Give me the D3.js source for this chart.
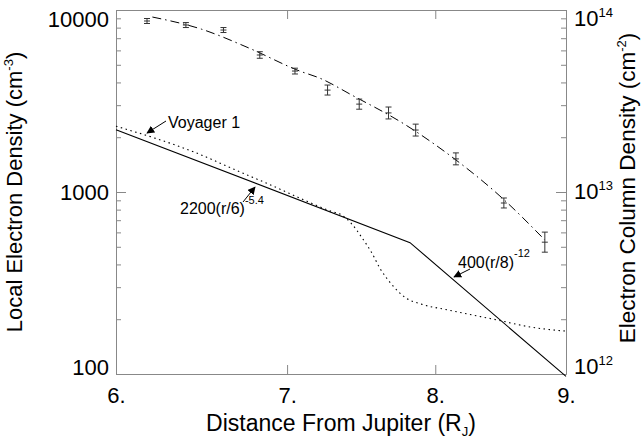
<!DOCTYPE html>
<html>
<head>
<meta charset="utf-8">
<script src="https://cdn.jsdelivr.net/npm/d3@7"></script>
<style>
  body { margin: 0; background: #fff; }
  svg { font-family: "Liberation Sans", Arial, Helvetica, sans-serif; }
</style>
</head>
<body>
<svg id="chart" width="643" height="441"></svg>
<script>
// tick values and labels
const xTicks = [6, 7, 8, 9];
const xTickLabels = ["6.", "7.", "8.", "9."];
const yLeftTicks = [100, 1000, 10000];
const yLeftMinor = [200, 300, 400, 500, 600, 700, 800, 900, 2000, 3000, 4000, 5000, 6000, 7000, 8000, 9000];
const yRightTicks = [1e12, 1e13, 1e14];
const yRightExp = ["12", "13", "14"];

// power law model (solid), local density cm^-3
const modelR = [6.0, 7.82, 9.0];
const modelN = [2200, 527, 97];

// Voyager 1 profile (dotted), local density cm^-3
const voyR = [6.0, 6.45, 6.7, 6.9, 7.1, 7.28, 7.35, 7.42, 7.49, 7.56, 7.61, 7.69, 7.79, 7.90, 8.09, 8.46, 8.72, 9.0];
const voyN = [2300, 1640, 1300, 1090, 910, 785, 750, 667, 559, 456, 382, 312, 262, 242, 225, 198, 181, 172];

// column density measurements with error bars, cm^-2
const obsR  = [6.17, 6.39, 6.61, 6.83, 7.05, 7.26, 7.47, 7.67, 7.86, 8.15, 8.51, 8.83];
const obsN  = [8.7e13, 8.27e13, 7.76e13, 5.66e13, 4.62e13, 3.63e13, 3.04e13, 2.72e13, 2.19e13, 1.52e13, 8.7e12, 5.3e12];
const obsLo = [8.43e13, 8.01e13, 7.52e13, 5.43e13, 4.45e13, 3.41e13, 2.85e13, 2.52e13, 2.03e13, 1.41e13, 8.17e12, 4.67e12];
const obsHi = [8.98e13, 8.53e13, 8.01e13, 5.90e13, 4.79e13, 3.87e13, 3.24e13, 2.93e13, 2.36e13, 1.64e13, 9.27e12, 6.02e12];

// column density fit (dash-dot), cm^-2
const fitR = [6.2, 6.48, 6.76, 7.08, 7.21, 7.42, 7.78, 8.12, 8.48, 8.83];
const fitN = [9.15e13, 7.85e13, 6.2e13, 4.62e13, 4.22e13, 3.41e13, 2.36e13, 1.56e13, 9.5e12, 5.45e12];

const svg = d3.select("#chart");
const mLeft = 116, mRight = 566, mTop = 10, mBottom = 374;
const axisColor = "#888";

let x = d3.scaleLog().domain([6, 9]).range([mLeft, mRight]);
let yL = d3.scaleLog().domain([100, 10000]).range([mBottom, mTop]);
let yR = d3.scaleLog().domain([1e12, 1e14]).range([mBottom, mTop]);

// labels at the ends of the y axes stay inside the frame
function labelDy(i, n) {
    if (i === 0) return "0em";
    if (i === n - 1) return "0.74em";
    return "0.34em";
}

function styleAxis(g) {
    g.selectAll("path").attr("stroke", axisColor);
    g.selectAll("line").attr("stroke", axisColor);
    g.selectAll("text").attr("fill", "#000").attr("font-family", null);
}

// bottom / top
svg.append("g")
    .attr("transform", "translate(0," + mBottom + ")")
    .call(d3.axisBottom(x).tickValues(xTicks).tickFormat((d, i) => xTickLabels[i])
        .tickSizeInner(-9).tickSizeOuter(0).tickPadding(13))
    .call(styleAxis)
    .selectAll("text").style("font-size", "22px");

svg.append("g")
    .attr("transform", "translate(0," + mTop + ")")
    .call(d3.axisTop(x).tickValues(xTicks).tickFormat("").tickSizeInner(-9).tickSizeOuter(0))
    .call(styleAxis);

// left
svg.append("g")
    .attr("transform", "translate(" + mLeft + ",0)")
    .call(d3.axisLeft(yL).tickValues(yLeftTicks).tickFormat(d3.format("d"))
        .tickSizeInner(-10).tickSizeOuter(0).tickPadding(7))
    .call(styleAxis)
    .selectAll("text")
    .style("font-size", "22px")
    .attr("dy", (d, i) => labelDy(i, yLeftTicks.length));

svg.append("g")
    .attr("transform", "translate(" + mLeft + ",0)")
    .call(d3.axisLeft(yL).tickValues(yLeftMinor).tickFormat("").tickSizeInner(-5).tickSizeOuter(0))
    .call(styleAxis);

// right
svg.append("g")
    .attr("transform", "translate(" + mRight + ",0)")
    .call(d3.axisRight(yR).tickValues(yRightTicks).tickFormat("").tickSizeInner(-10).tickSizeOuter(0))
    .call(styleAxis);

svg.append("g")
    .attr("transform", "translate(" + mRight + ",0)")
    .call(d3.axisRight(yR).tickValues(yLeftMinor.map(d => d * 1e10)).tickFormat("").tickSizeInner(-5).tickSizeOuter(0))
    .call(styleAxis);

let rLabels = svg.selectAll("rlabel")
    .data(yRightTicks)
    .enter()
    .append("text")
    .attr("x", mRight + 8)
    .attr("y", d => yR(d))
    .attr("dy", (d, i) => labelDy(i, yRightTicks.length))
    .style("font-size", "22px");
rLabels.append("tspan").text("10");
rLabels.append("tspan")
    .attr("dy", -9)
    .style("font-size", "13px")
    .text((d, i) => yRightExp[i]);

// axis titles
let xt = svg.append("text")
    .attr("x", (mLeft + mRight) / 2)
    .attr("y", 431)
    .attr("text-anchor", "middle")
    .style("font-size", "23px");
xt.append("tspan").text("Distance From Jupiter (R");
xt.append("tspan").attr("dy", 5).style("font-size", "13px").text("J");
xt.append("tspan").attr("dy", -5).text(")");

let ylt = svg.append("text")
    .attr("transform", "translate(22," + (mTop + mBottom) / 2 + ") rotate(-90)")
    .attr("text-anchor", "middle")
    .style("font-size", "22px");
ylt.append("tspan").text("Local Electron Density (cm");
ylt.append("tspan").attr("dy", -9).style("font-size", "13px").text("-3");
ylt.append("tspan").attr("dy", 9).text(")");

let yrt = svg.append("text")
    .attr("transform", "translate(635," + ((mTop + mBottom) / 2 - 4) + ") rotate(-90)")
    .attr("text-anchor", "middle")
    .style("font-size", "22.5px");
yrt.append("tspan").text("Electron Column Density (cm");
yrt.append("tspan").attr("dy", -9).style("font-size", "13px").text("-2");
yrt.append("tspan").attr("dy", 9).text(")");

// lines
let lineL = d3.line().x(d => x(d[0])).y(d => yL(d[1]));
let lineR = d3.line().x(d => x(d[0])).y(d => yR(d[1]));

svg.append("path")
    .datum(d3.zip(modelR, modelN))
    .attr("d", lineL)
    .attr("fill", "none")
    .attr("stroke", "#000")
    .attr("stroke-width", 1.1);

svg.append("path")
    .datum(d3.zip(voyR, voyN))
    .attr("d", d3.line().curve(d3.curveMonotoneX).x(d => x(d[0])).y(d => yL(d[1])))
    .attr("fill", "none")
    .attr("stroke", "#000")
    .attr("stroke-width", 1.1)
    .attr("stroke-dasharray", "1.5,3.5");

svg.append("path")
    .datum(d3.zip(fitR, fitN))
    .attr("d", lineR.curve(d3.curveMonotoneX))
    .attr("fill", "none")
    .attr("stroke", "#000")
    .attr("stroke-width", 1)
    .attr("stroke-dasharray", "9,4,1.5,4");

// error bars
let obs = obsR.map((r, i) => ({r: r, n: obsN[i], lo: obsLo[i], hi: obsHi[i]}));
let eb = svg.selectAll("errbar")
    .data(obs)
    .enter()
    .append("g")
    .attr("stroke", "#333")
    .attr("stroke-width", 1);
eb.append("line")
    .attr("x1", d => x(d.r)).attr("x2", d => x(d.r))
    .attr("y1", d => yR(d.lo)).attr("y2", d => yR(d.hi));
eb.append("line")
    .attr("x1", d => x(d.r) - 3).attr("x2", d => x(d.r) + 3)
    .attr("y1", d => yR(d.lo)).attr("y2", d => yR(d.lo));
eb.append("line")
    .attr("x1", d => x(d.r) - 3).attr("x2", d => x(d.r) + 3)
    .attr("y1", d => yR(d.hi)).attr("y2", d => yR(d.hi));
eb.append("line")
    .attr("x1", d => x(d.r) - 3).attr("x2", d => x(d.r) + 3)
    .attr("y1", d => yR(d.n)).attr("y2", d => yR(d.n));

// annotations
svg.append("defs").append("marker")
    .attr("id", "arrow")
    .attr("viewBox", "0 0 10 10")
    .attr("refX", 9).attr("refY", 5)
    .attr("markerWidth", 8).attr("markerHeight", 8)
    .attr("markerUnits", "userSpaceOnUse")
    .attr("orient", "auto")
    .append("path")
    .attr("d", "M0,0 L10,5 L0,10 z")
    .attr("fill", "#000");

function arrow(x1, y1, x2, y2) {
    svg.append("line")
        .attr("x1", x1).attr("y1", y1).attr("x2", x2).attr("y2", y2)
        .attr("stroke", "#000").attr("stroke-width", 1)
        .attr("marker-end", "url(#arrow)");
}

svg.append("text").attr("x", 168).attr("y", 128).style("font-size", "16px").text("Voyager 1");
arrow(166, 121, 147, 133);

let t1 = svg.append("text").attr("x", 180).attr("y", 214).style("font-size", "16px");
t1.append("tspan").text("2200(r/6)");
t1.append("tspan").attr("dy", -10).style("font-size", "11px").text("-5.4");
arrow(243, 202, 255, 187);

let t2 = svg.append("text").attr("x", 458).attr("y", 268).style("font-size", "16px");
t2.append("tspan").text("400(r/8)");
t2.append("tspan").attr("dy", -11).style("font-size", "11px").text("-12");
arrow(470, 269, 454, 277);
</script>
</body>
</html>
